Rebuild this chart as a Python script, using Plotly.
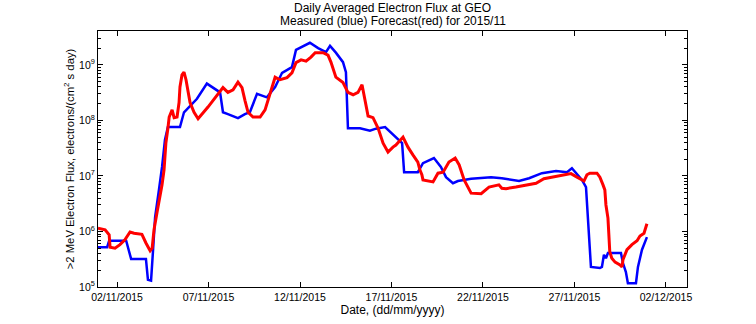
import pandas as pd
import plotly.graph_objects as go

# Measured (blue): day of November 2015 (fractional), flux
meas_day = [0.96, 1.46, 1.57, 2.50, 2.77, 3.58, 3.69, 3.86, 3.97, 4.08, 4.29, 4.46, 4.62, 4.78,
            5.44, 5.66, 6.37, 6.91, 7.63, 7.79, 8.06, 8.61, 8.99, 9.26, 9.65, 10.19, 10.64,
            11.02, 11.56, 11.72, 11.78, 12.54, 12.99, 13.42, 13.64, 13.96, 14.35, 14.51, 14.57,
            14.62, 14.79, 15.28, 15.82, 16.15, 16.65, 17.08, 17.35, 17.58, 17.69, 18.44, 18.72,
            19.32, 19.70, 19.98, 20.36, 20.63, 21.35, 22.44, 23.03, 23.70, 23.97, 24.52, 25.22,
            25.99, 26.59, 26.86, 27.08, 27.41, 27.63, 27.73, 27.84, 27.90, 28.39, 28.50, 28.61,
            28.72, 28.83, 29.54, 29.65, 29.81, 29.92, 30.36, 30.47, 30.69, 30.96]
meas_flux = [5.2e5, 5.2e5, 6.8e5, 6.8e5, 3.2e5, 3.2e5, 1.35e5, 1.3e5, 4.7e5, 1.8e6, 5.6e6, 1.45e7,
             4.5e7, 7.6e7, 7.6e7, 1.4e8, 2.45e8, 4.6e8, 3.2e8, 1.4e8, 1.3e8, 1.1e8, 1.3e8, 1.4e8,
             3.0e8, 2.6e8, 4.0e8, 7.2e8, 9.1e8, 1.66e9, 1.86e9, 2.5e9, 2.0e9, 1.7e9, 2.2e9, 1.66e9,
             1.12e9, 7.4e8, 2.6e8, 7.2e7, 7.2e7, 7.2e7, 6.5e7, 7.1e7, 7.6e7, 5.5e7, 4.5e7, 3.9e7,
             1.17e7, 1.17e7, 1.7e7, 2.1e7, 1.45e7, 9.5e6, 7.4e6, 8.1e6, 8.9e6, 9.5e6, 9.1e6, 8.5e6,
             8.1e6, 9.1e6, 1.12e7, 1.23e7, 1.17e7, 1.38e7, 1.12e7, 8.5e6, 6.3e6, 2.1e6, 5.2e5,
             2.3e5, 2.2e5, 2.3e5, 3.8e5, 3.3e5, 4.1e5, 4.1e5, 2.7e5, 1.86e5, 1.17e5, 1.17e5,
             2.3e5, 4.7e5, 7.9e5]

# Forecast (red)
fc_day = [0.96, 1.35, 1.57, 1.62, 1.89, 2.16, 2.43, 2.71, 2.93, 3.36, 3.58, 3.81, 3.92, 4.02,
          4.19, 4.35, 4.46, 4.57, 4.62, 4.67, 4.78, 4.85, 5.01, 5.12, 5.28, 5.39, 5.44, 5.55,
          5.66, 5.77, 5.89, 5.99, 6.21, 6.43, 6.97, 7.79, 8.06, 8.34, 8.61, 8.83, 8.99, 9.16,
          9.43, 9.82, 10.09, 10.36, 10.64, 10.91, 11.29, 11.56, 11.78, 12.06, 12.33, 12.60,
          12.83, 13.26, 13.53, 13.69, 13.96, 14.35, 14.62, 14.90, 15.17, 15.39, 15.61, 15.72,
          15.99, 16.27, 16.54, 16.81, 17.08, 17.24, 17.63, 17.90, 18.17, 18.44, 18.55, 18.66,
          18.72, 19.00, 19.27, 19.54, 19.82, 20.14, 20.48, 20.70, 20.97, 21.35, 21.90, 22.33,
          22.87, 23.03, 23.26, 23.80, 24.36, 24.90, 25.33, 25.77, 26.32, 26.81, 27.14, 27.52,
          27.68, 27.84, 28.23, 28.39, 28.56, 28.66, 28.72, 28.83, 28.88, 28.93, 29.04, 29.22,
          29.49, 29.60, 29.65, 29.87, 30.14, 30.42, 30.58, 30.80, 30.96]
fc_flux = [1.15e6, 1.07e6, 8.7e5, 5.2e5, 5.0e5, 5.8e5, 7.1e5, 9.8e5, 9.3e5, 8.9e5, 6.2e5, 4.5e5,
           5.0e5, 1.07e6, 2.24e6, 4.2e6, 6.9e6, 1.29e7, 2.2e7, 3.9e7, 7.2e7, 1.15e8, 1.55e8,
           1.12e8, 1.15e8, 2.1e8, 4.0e8, 6.6e8, 7.4e8, 5.4e8, 3.2e8, 2.1e8, 1.4e8, 1.07e8, 1.74e8,
           3.9e8, 3.2e8, 3.55e8, 4.9e8, 3.9e8, 2.3e8, 1.4e8, 1.15e8, 1.15e8, 1.55e8, 2.9e8, 6.0e8,
           5.4e8, 5.9e8, 7.2e8, 1.1e9, 1.23e9, 1.17e9, 1.38e9, 1.66e9, 1.66e9, 1.5e9, 1.12e9,
           6.0e8, 4.8e8, 3.2e8, 2.9e8, 3.2e8, 4.4e8, 1.9e8, 1.2e8, 1.12e8, 7.2e7, 3.9e7, 2.7e7,
           3.3e7, 3.6e7, 5.0e7, 3.3e7, 2.4e7, 1.78e7, 1.29e7, 1.05e7, 8.5e6, 8.1e6, 7.8e6, 1.12e7,
           1.17e7, 1.78e7, 2.1e7, 1.58e7, 8.5e6, 4.9e6, 4.8e6, 6.3e6, 6.9e6, 6.0e6, 5.9e6, 6.3e6,
           6.9e6, 7.4e6, 8.9e6, 9.5e6, 1.0e7, 1.1e7, 9.5e6, 8.1e6, 1.05e7, 1.12e7, 1.12e7, 9.5e6,
           6.9e6, 5.6e6, 3.0e6, 1.74e6, 8.7e5, 4.3e5, 3.3e5, 2.8e5, 2.5e5, 2.3e5, 3.1e5, 4.7e5,
           5.8e5, 6.8e5, 8.3e5, 9.3e5, 1.38e6]

x_tick_values = ["2015-11-02", "2015-11-07", "2015-11-12", "2015-11-17",
                 "2015-11-22", "2015-11-27", "2015-12-02"]
x_tick_labels = ["02/11/2015", "07/11/2015", "12/11/2015", "17/11/2015",
                 "22/11/2015", "27/11/2015", "02/12/2015"]
y_tick_values = [1e5, 1e6, 1e7, 1e8, 1e9]
y_tick_labels = ["10<sup>5</sup>", "10<sup>6</sup>", "10<sup>7</sup>", "10<sup>8</sup>", "10<sup>9</sup>"]
title_lines = ["Daily Averaged Electron Flux at GEO", "Measured (blue) Forecast(red) for 2015/11"]

base = pd.Timestamp("2015-11-01")
def to_time(days):
    return [base + pd.to_timedelta(d - 1.0, unit="D") for d in days]

FONT = "Liberation Sans, Arial, sans-serif"

fig = go.Figure()
fig.add_trace(go.Scatter(x=to_time(meas_day), y=meas_flux, mode="lines",
                         line=dict(color="#0000ff", width=2.5), name="Measured"))
fig.add_trace(go.Scatter(x=to_time(fc_day), y=fc_flux, mode="lines",
                         line=dict(color="#ff0000", width=3), name="Forecast"))

fig.update_layout(
    width=756, height=324,
    margin=dict(l=98, r=69, t=31, b=37),
    paper_bgcolor="white", plot_bgcolor="white",
    showlegend=False,
    font=dict(family=FONT, size=10, color="black"),
)
for txt, yy in zip(title_lines, [1.089, 1.038]):
    fig.add_annotation(text=txt, xref="paper", yref="paper", x=0.5, y=yy,
                       xanchor="center", yanchor="middle", showarrow=False,
                       font=dict(family=FONT, size=12, color="black"))

fig.update_xaxes(
    type="date", automargin=False,
    range=[base + pd.to_timedelta(-0.04, unit="D"), base + pd.to_timedelta(32.15, unit="D")],
    tickvals=x_tick_values, ticktext=x_tick_labels,
    ticks="inside", ticklen=5, tickcolor="black",
    showline=True, linecolor="black", linewidth=1, mirror="ticks",
    showgrid=False, zeroline=False,
    tickfont=dict(size=10.5),
    title=dict(text="Date, (dd/mm/yyyy)", font=dict(size=12), standoff=4),
)
fig.update_yaxes(
    type="log", range=[5, 9.61], automargin=False,
    tickvals=y_tick_values, ticktext=y_tick_labels,
    ticks="inside", ticklen=5, tickcolor="black",
    minor=dict(ticks="inside", ticklen=3, tickcolor="black", dtick="D1", showgrid=False),
    showline=True, linecolor="black", linewidth=1, mirror="ticks",
    showgrid=False, zeroline=False,
    tickfont=dict(size=10.5),
    title=dict(text=">2 MeV Electron Flux, electrons/(cm<sup>2</sup> s day)", font=dict(size=11.3), standoff=2),
)

fig.write_html("out.html")
